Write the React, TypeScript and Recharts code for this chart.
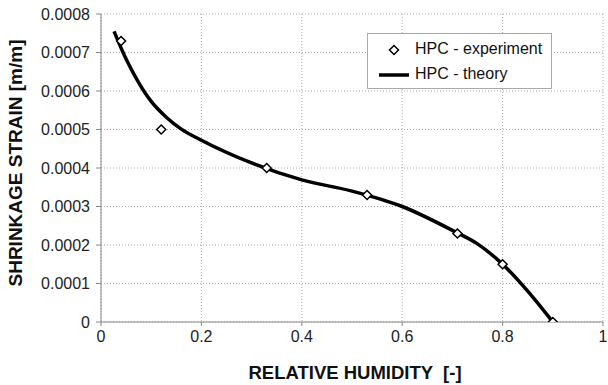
import { ComposedChart, Line, Scatter, XAxis, YAxis, CartesianGrid } from 'recharts';

// experimental points
const expHumidity = [0.04, 0.12, 0.33, 0.53, 0.71, 0.8, 0.9];
const expStrain = [0.00073, 0.0005, 0.0004, 0.00033, 0.00023, 0.00015, 0];

// theory curve
const theoryHumidity = [0.026, 0.05, 0.075, 0.1, 0.13, 0.16, 0.2, 0.3, 0.4, 0.5, 0.6, 0.7, 0.75, 0.8, 0.85, 0.9];
const theoryStrain = [0.000755, 0.000683, 0.000622, 0.000573, 0.000532, 0.000501, 0.000472, 0.000413, 0.000369, 0.00034, 0.0003, 0.000238, 0.000203, 0.00015, 0.00008, 0];

const xTicks = [0, 0.2, 0.4, 0.6, 0.8, 1];
const yTicks = [0, 0.0001, 0.0002, 0.0003, 0.0004, 0.0005, 0.0006, 0.0007, 0.0008];

const FONT = '"Liberation Sans", Arial, sans-serif';

const Diamond = (props: any) => {
  const { cx, cy } = props;
  const r = 4.5;
  return (
    <polygon
      points={`${cx},${cy - r} ${cx + r},${cy} ${cx},${cy + r} ${cx - r},${cy}`}
      fill="#fff"
      stroke="#000"
      strokeWidth={1.5}
    />
  );
};

// legend box drawn over the plot area (top right)
const LegendBox = () => (
  <div
    style={{
      position: 'absolute',
      left: 367,
      top: 33,
      width: 183,
      height: 54,
      border: '1px solid #aaa',
      background: '#fff',
      fontFamily: FONT,
      fontSize: 16,
      color: '#111',
    }}
  >
    <svg width={44} height={54} style={{ position: 'absolute', left: 0, top: 0 }}>
      <polygon points="26,11.5 30.5,16 26,20.5 21.5,16" fill="#fff" stroke="#000" strokeWidth={1.5} />
      <line x1={11} y1={41} x2={41} y2={41} stroke="#000" strokeWidth={3.5} />
    </svg>
    <div style={{ position: 'absolute', left: 47, top: 6 }}>HPC - experiment</div>
    <div style={{ position: 'absolute', left: 47, top: 31 }}>HPC - theory</div>
  </div>
);

// axis titles, drawn on a plain overlay
const AxisTitles = () => (
  <svg width={608} height={385} style={{ position: 'absolute', left: 0, top: 0, pointerEvents: 'none' }}>
    <text x={15} y={163} transform="rotate(-90 15 163)" textAnchor="middle" dominantBaseline="central" fontFamily={FONT} fontSize={19} fontWeight="bold" fill="#111">
      SHRINKAGE STRAIN [m/m]
    </text>
    <text x={355} y={372} textAnchor="middle" dominantBaseline="central" fontFamily={FONT} fontSize={18.5} fontWeight="bold" fill="#111" style={{ whiteSpace: 'pre' }}>
      {'RELATIVE HUMIDITY  [-]'}
    </text>
  </svg>
);

const App = () => {
  const expData = expHumidity.map((x, i) => ({ x, y: expStrain[i] }));
  const theoryData = theoryHumidity.map((x, i) => ({ x, y: theoryStrain[i] }));

  return (
    <div style={{ position: 'absolute', left: 0, top: 0, width: 608, height: 385, background: '#fff' }}>
      <ComposedChart width={608} height={385} margin={{ top: 14, right: 5, bottom: 0, left: 0 }}>
        <CartesianGrid stroke="#aaa" strokeDasharray="1 2" />
        <XAxis
          type="number"
          dataKey="x"
          domain={[0, 1]}
          ticks={xTicks}
          tickFormatter={(v) => String(v)}
          tick={{ fill: '#222', fontSize: 16, fontFamily: FONT }}
          stroke="#888"
          tickSize={4}
          tickMargin={5}
          height={63}
          allowDataOverflow
        />
        <YAxis
          type="number"
          dataKey="y"
          domain={[0, 0.0008]}
          ticks={yTicks}
          tickFormatter={(v) => String(v)}
          tick={{ fill: '#222', fontSize: 16, fontFamily: FONT }}
          stroke="#888"
          tickSize={5}
          tickMargin={6}
          width={101}
          allowDataOverflow
        />
        <Line
          data={theoryData}
          dataKey="y"
          type="monotone"
          stroke="#000"
          strokeWidth={3.5}
          dot={false}
          isAnimationActive={false}
          name="HPC - theory"
        />
        <Scatter data={expData} dataKey="y" shape={<Diamond />} isAnimationActive={false} name="HPC - experiment" />
      </ComposedChart>
      <AxisTitles />
      <LegendBox />
    </div>
  );
};

export default App;
